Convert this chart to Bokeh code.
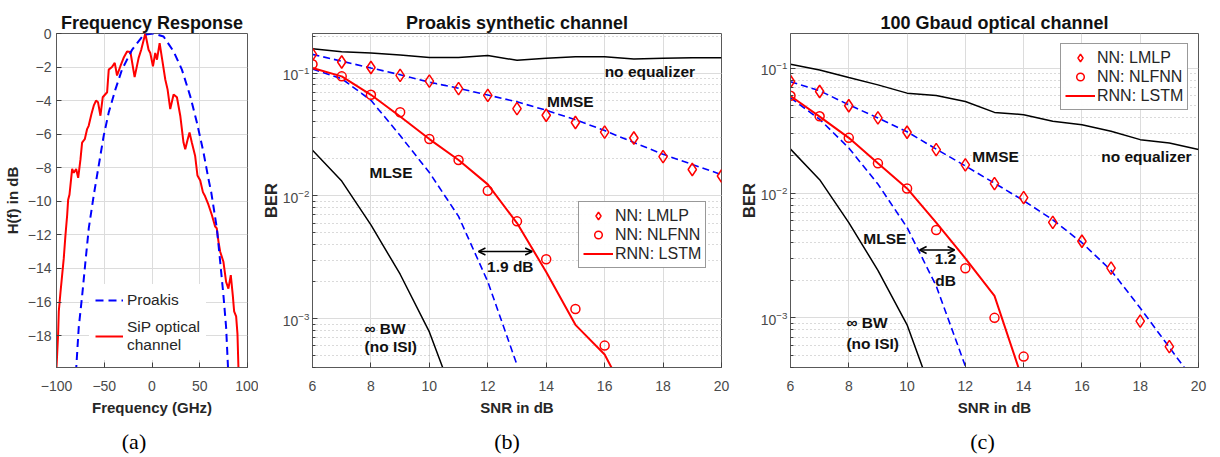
from bokeh.plotting import figure
from bokeh.layouts import row, column
from bokeh.models import Range1d, FixedTicker, Label, Arrow, OpenHead, Legend, LegendItem
from bokeh.core.properties import value
from bokeh.embed import file_html
from bokeh.resources import INLINE

SANS = "Liberation Sans"
SERIF = "Liberation Serif"

# ---------------- panel (a) data ----------------
freq_sip = [-100, -98.3, -97.6, -95.8, -94.1, -92.4, -90.6, -88.8, -87.8, -86.4, -85.4, -83.6, -81.9,
            -79.4, -77.3, -74.9, -73.2, -70.4, -68.0, -66.3, -63.4, -61.0, -58.6, -56.5, -54.0, -51.6,
            -47.0, -45.3, -41.9, -39.0, -36.6, -33.1, -29.7, -26.1, -22.6, -18.2, -14.0, -11.3, -7.0,
            -3.6, -1.8, 1.0, 3.4, 5.2, 8.0, 10.4, 13.9, 16.3, 19.1, 22.6, 26.1, 29.6, 33.0, 34.8, 37.2,
            39.3, 41.7, 45.2, 47.6, 50.5, 53.3, 55.6, 59.1, 62.6, 66.1, 67.8, 69.6, 71.4, 74.8, 77.6,
            80.0, 82.5, 84.6, 86.0, 88.1, 89.5, 90.5]
h_sip = [-19.9, -17.9, -16.55, -15.4, -14.4, -13.4, -12.0, -10.8, -9.9, -9.6, -9.05, -8.07, -8.3,
         -8.07, -8.6, -7.5, -6.5, -6.3, -5.7, -5.5, -4.8, -4.3, -4.0, -4.1, -4.9, -3.8,
         -3.5, -2.15, -2.0, -1.75, -2.5, -1.95, -1.45, -1.07, -1.1, -2.6, -1.45, -0.97, 0.0,
         -0.97, -1.16, -1.95, -1.16, -1.56, -0.57, -1.45, -2.74, -3.33, -4.5, -3.63, -3.8, -4.9, -6.5, -6.9, -6.35,
         -5.9, -6.5, -7.3, -8.46, -8.76, -9.45, -9.7, -10.2, -10.8, -11.5, -11.6, -12.4, -13.0, -13.6, -14.8,
         -15.2, -14.4, -15.6, -16.55, -16.85, -17.9, -19.9]
freq_pro = [-80.5, -76.7, -73.1, -69.7, -66.2, -61.0, -55.8, -50.6, -45.3, -38.3, -31.4, -20.9, -8.8,
            1.7, 12.1, 22.6, 31.3, 40.0, 47.0, 53.9, 59.1, 62.0, 67.9, 71.4, 74.8, 77.6, 80.5]
h_pro = [-21.0, -17.5, -15.6, -13.6, -11.6, -9.64, -7.87, -6.1, -4.7, -3.33, -2.15, -0.97, -0.08,
         0.0, -0.18, -1.07, -2.15, -3.73, -5.3, -7.08, -8.66, -9.45, -11.6, -13.6, -15.6, -17.5, -21.0]
freq_ticks = [-100, -50, 0, 50, 100]
hdb_ticks = [-18, -16, -14, -12, -10, -8, -6, -4, -2, 0]

# ---------------- panel (b) data : Proakis ----------------
snr = [6, 7, 8, 9, 10, 11, 12, 13, 14, 15, 16, 17, 18, 19, 20]
snr_ticks = [6, 8, 10, 12, 14, 16, 18, 20]
noeq_b = [0.158, 0.149, 0.146, 0.140, 0.134, 0.134, 0.139, 0.127, 0.132, 0.136, 0.136, 0.130, 0.132, 0.133, 0.133]
mmse_b = [0.142, 0.125, 0.110, 0.097, 0.0843, 0.0752, 0.0662, 0.0583, 0.0498, 0.0417, 0.0340, 0.0272, 0.0218, 0.0180, 0.0149]
lmlp_b = [0.142, 0.123, 0.111, 0.0957, 0.0859, 0.0747, 0.0658, 0.0514, 0.0453, 0.0396, 0.0330, 0.0296, 0.0209, 0.0164, 0.0145]
mlse_b = [0.108, 0.090, 0.060, 0.031, 0.0155, 0.0068, 0.0020, 0.00042]
infbw_b = [0.0235, 0.0132, 0.0058, 0.0023, 0.00078, 0.00018]
lstm_b = [0.110, 0.094, 0.0665, 0.0443, 0.029, 0.0196, 0.0124, 0.0060, 0.0024, 0.00089, 0.00051, 0.00018]
nlfnn_b = [0.118, 0.094, 0.0665, 0.048, 0.029, 0.0196, 0.011, 0.0062, 0.00305, 0.0012, 0.000603]

# ---------------- panel (c) data : 100 Gbaud optical ----------------
noeq_c = [0.1076, 0.097, 0.0843, 0.0736, 0.0632, 0.0606, 0.0542, 0.0443, 0.0425, 0.0376, 0.0353, 0.0313, 0.0268, 0.0252, 0.0223]
mmse_c = [0.078, 0.066, 0.051, 0.040, 0.031, 0.0225, 0.0165, 0.0120, 0.0087, 0.0061, 0.0040, 0.0024, 0.0012, 0.00058, 0.00028]
lmlp_c = [0.0783, 0.0652, 0.0501, 0.040, 0.0307, 0.0223, 0.0168, 0.0119, 0.0092, 0.00582, 0.00411, 0.0025, 0.00094, 0.000588]
mlse_c = [0.058, 0.039, 0.023, 0.0118, 0.0053, 0.0018, 0.00041]
infbw_c = [0.0225, 0.0128, 0.0058, 0.0024, 0.00088, 0.0002]
lstm_c = [0.060, 0.041, 0.0277, 0.0173, 0.0109, 0.0058, 0.0030, 0.0015, 0.0003]
nlfnn_c = [0.0602, 0.0412, 0.0277, 0.0173, 0.01087, 0.00506, 0.0025, 0.0010, 0.000489]

captions = ["(a)", "(b)", "(c)"]

RED = "#ff0000"
BLUE = "#0000ff"
DASH = "7 4"
FIG_H = 428
CAP_H = 28


def style(p, ylog=False):
    p.outline_line_color = "#595959"
    p.outline_line_width = 1
    p.background_fill_color = "white"
    p.border_fill_color = "white"
    for ax in p.axis:
        ax.axis_line_color = "#595959"
        ax.major_tick_in = 5
        ax.major_tick_out = 0
        ax.minor_tick_in = 3
        ax.minor_tick_out = 0
        ax.major_tick_line_color = "#404040"
        ax.minor_tick_line_color = "#404040"
        ax.major_label_text_font = SANS
        ax.major_label_text_font_size = "14px"
        ax.major_label_text_color = "#4a4a4a"
        ax.axis_label_text_font = SANS
        ax.axis_label_text_font_style = "bold"
        ax.axis_label_text_color = "#262626"
        ax.axis_label_text_font_size = "15px"
    p.xaxis.major_label_standoff = 13
    p.xaxis.axis_label_standoff = 5
    p.xaxis.minor_tick_line_color = None
    p.xgrid.grid_line_color = "#dcdcdc"
    p.ygrid.grid_line_color = "#dcdcdc"
    if ylog:
        p.ygrid.minor_grid_line_color = "#b5b5b5"
        p.ygrid.minor_grid_line_dash = "1 3"
        p.yaxis.major_label_standoff = 3
        p.yaxis.axis_label_standoff = 0
    else:
        p.yaxis.minor_tick_line_color = None
        p.yaxis.major_label_standoff = 5
        p.yaxis.axis_label_standoff = 4
    p.title.text_font = SANS
    p.title.text_font_size = "18px"
    p.title.text_color = "#111111"
    p.title.align = "center"
    p.title.standoff = 2


def label(p, x, y, text, size="15.5px", align="left"):
    p.add_layout(Label(x=x, y=y, text=text, text_align=align, text_baseline="middle",
                       text_font=SANS, text_font_size=size, text_color="#111111",
                       text_font_style="bold"))


def darrow(p, x0, x1, y):
    p.add_layout(Arrow(start=OpenHead(size=7, line_width=1.5), end=OpenHead(size=7, line_width=1.5),
                       x_start=x0, y_start=y, x_end=x1, y_end=y, line_width=1.5, line_color="black"))


# ---------------- (a) ----------------
pa = figure(width=258, height=FIG_H, x_range=Range1d(-100, 100), y_range=Range1d(-19.9, 0),
            title="Frequency Response", output_backend="svg", toolbar_location=None,
            min_border_left=56, min_border_right=11, min_border_top=32, min_border_bottom=FIG_H - 368)
style(pa)
pa.xaxis.ticker = FixedTicker(ticks=freq_ticks)
pa.yaxis.ticker = FixedTicker(ticks=hdb_ticks)
pa.xaxis.axis_label = "Frequency (GHz)"
pa.yaxis.axis_label = "H(f) in dB"
r_sip = pa.line(freq_sip, h_sip, line_color=RED, line_width=2)
r_pro = pa.line(freq_pro, h_pro, line_color=BLUE, line_width=2, line_dash="8 5")
lga = Legend(items=[LegendItem(label="Proakis", renderers=[r_pro]),
                    LegendItem(label="SiP optical\nchannel", renderers=[r_sip])],
             location=(33, 7))
lga.padding = 6
lga.spacing = 8
lga.margin = 0
lga.glyph_width = 28
lga.glyph_height = 20
lga.label_standoff = 4
lga.border_line_alpha = 0
lga.background_fill_color = "white"
lga.background_fill_alpha = 1
lga.label_text_font = SANS
lga.label_text_font_size = "15.5px"
lga.label_text_color = "#262626"
pa.add_layout(lga)


def ber_fig(title, yr, wl, wr, top, width):
    p = figure(width=width, height=FIG_H, x_range=Range1d(6, 20), y_range=Range1d(*yr), y_axis_type="log",
               title=title, output_backend="svg", toolbar_location=None,
               min_border_left=wl, min_border_right=wr, min_border_top=top,
               min_border_bottom=FIG_H - top - 335)
    style(p, ylog=True)
    p.xaxis.ticker = FixedTicker(ticks=snr_ticks)
    p.xaxis.axis_label = "SNR in dB"
    p.yaxis.axis_label = "BER"
    p.yaxis.axis_label_text_font_size = "16.5px"
    return p


def ber_legend(p, r_d, r_c, r_l, loc):
    lg = Legend(items=[LegendItem(label="NN: LMLP", renderers=[r_d]),
                       LegendItem(label="NN: NLFNN", renderers=[r_c]),
                       LegendItem(label="RNN: LSTM", renderers=[r_l])], location=loc)
    lg.padding = 4
    lg.spacing = 0
    lg.margin = 0
    lg.glyph_width = 30
    lg.glyph_height = 19
    lg.label_height = 19
    lg.label_standoff = 2
    lg.border_line_color = "#333333"
    lg.border_line_width = 1
    lg.background_fill_color = "white"
    lg.label_text_font = SANS
    lg.label_text_font_size = "16px"
    lg.label_text_color = "#262626"
    p.add_layout(lg)


def draw_ber(p, noeq, mmse, lmlp, mlse, infbw, lstm, nlfnn):
    p.line(snr, noeq, line_color="black", line_width=1.5)
    p.line(snr[:len(mmse)], mmse, line_color=BLUE, line_width=1.6, line_dash=DASH)
    p.line(snr[:len(mlse)], mlse, line_color=BLUE, line_width=1.6, line_dash=DASH)
    p.line(snr[:len(infbw)], infbw, line_color="black", line_width=1.5)
    r_l = p.line(snr[:len(lstm)], lstm, line_color=RED, line_width=2)
    r_d = p.scatter(snr[:len(lmlp)], lmlp, marker="diamond", size=12.5,
                    line_color=RED, line_width=1.5, fill_color=None)
    r_c = p.scatter(snr[:len(nlfnn)], nlfnn, marker="circle", size=9, line_color=RED, line_width=1.5,
                    fill_color=None)
    return r_d, r_c, r_l


# ---------------- (b) ----------------
pb = ber_fig("Proakis synthetic channel", (4e-4, 0.21), 54, 15, 33, 478)
rd, rc, rl = draw_ber(pb, noeq_b, mmse_b, lmlp_b, mlse_b, infbw_b, lstm_b, nlfnn_b)
ber_legend(pb, rd, rc, rl, (266, 99))
label(pb, 16.0, 0.1035, "no equalizer")
label(pb, 14.03, 0.0587, "MMSE")
label(pb, 7.95, 0.01556, "MLSE")
label(pb, 12.77, 0.00264, "1.9 dB", align="center")
darrow(pb, 11.68, 13.52, 0.00352)
label(pb, 7.78, 0.000824, "∞ BW")
label(pb, 7.78, 0.000591, "(no ISI)")

# ---------------- (c) ----------------
pc = ber_fig("100 Gbaud optical channel", (4e-4, 0.19), 54, 20, 32, 482)
rd, rc, rl = draw_ber(pc, noeq_c, mmse_c, lmlp_c, mlse_c, infbw_c, lstm_c, nlfnn_c)
ber_legend(pc, rd, rc, rl, (270, 257))
label(pc, 16.66, 0.0198, "no equalizer")
label(pc, 12.24, 0.0198, "MMSE")
label(pc, 8.5, 0.0043, "MLSE")
darrow(pc, 10.43, 11.63, 0.0035)
label(pc, 11.32, 0.00294, "1.2", align="center")
label(pc, 11.32, 0.0020, "dB", align="center")
label(pc, 7.92, 0.000918, "∞ BW")
label(pc, 7.92, 0.000625, "(no ISI)")

# ---------------- captions strip ----------------
CAP_W = 258 + 478 + 482
cap = figure(width=CAP_W, height=CAP_H, x_range=Range1d(0, CAP_W), y_range=Range1d(0, CAP_H),
             output_backend="svg", toolbar_location=None, min_border=0)
cap.axis.visible = False
cap.grid.visible = False
cap.outline_line_color = None
cap.text(x=[133.5, 506.5, 982.0], y=[CAP_H - 13] * 3, text=captions, text_font=value(SERIF),
         text_font_size="22px", text_align="center", text_baseline="middle", text_color="black")

layout = column(row(pa, pb, pc), cap)
open("out.html", "w").write(file_html(layout, INLINE, title="BER"))
